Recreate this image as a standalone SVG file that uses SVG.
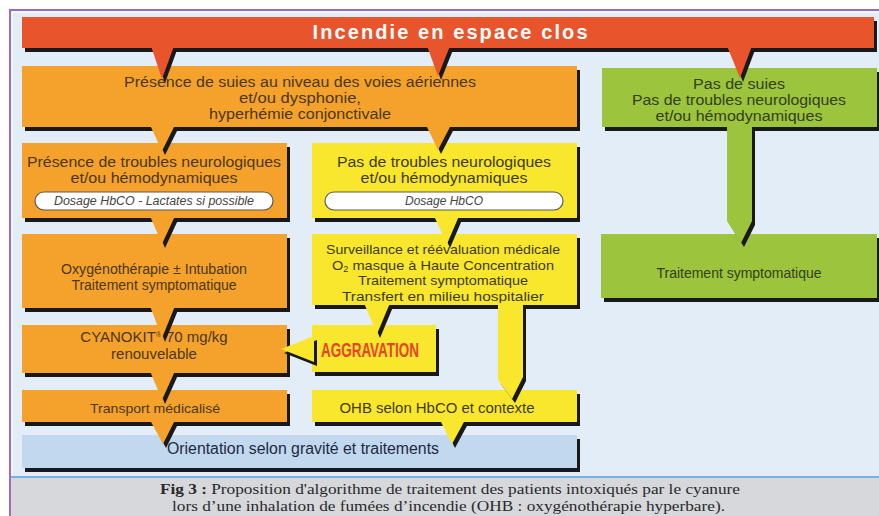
<svg xmlns="http://www.w3.org/2000/svg" width="879" height="516" viewBox="0 0 879 516">
<style>
.sh{fill:#17191d}
.red{fill:#e8542c}
.org{fill:#f5a22c}
.yel{fill:#f9e72e}
.grn{fill:#9cc43c}
.blu{fill:#c2d8ee}
.t{font-family:"Liberation Sans",Arial,sans-serif;text-anchor:middle}
.to{fill:#4b3716}
.ty{fill:#3f3a14}
.tg{fill:#33401a}
.pill{fill:#fff;stroke:#5a5a5a;stroke-width:1.2}
.pt{font-family:"Liberation Sans",Arial,sans-serif;font-style:italic;font-size:12px;fill:#444;text-anchor:middle}
.cap{font-family:"Liberation Serif","Times New Roman",serif;font-size:15px;fill:#2a2a2a}
</style>
<rect x="0" y="0" width="879" height="516" fill="#ffffff"/>
<rect x="10" y="10" width="869" height="506" fill="#e3edf7"/>
<line x1="12" y1="12" x2="879" y2="12" stroke="#ffffff" stroke-width="1"/>
<line x1="12" y1="12" x2="12" y2="477" stroke="#ffffff" stroke-width="1"/>
<line x1="9" y1="10" x2="879" y2="10" stroke="#9a6cc4" stroke-width="2"/>
<line x1="10" y1="9" x2="10" y2="516" stroke="#9a6cc4" stroke-width="2"/>
<rect x="11" y="477" width="868" height="39" fill="#d6d8db"/>
<line x1="11" y1="477" x2="879" y2="477" stroke="#79b2dd" stroke-width="2"/>

<g id="n_orient">
<rect class="sh" x="25" y="439" width="555" height="33"/>
<rect class="blu" x="22" y="435" width="555" height="33"/>
<text class="t" x="303" y="454" font-size="16" fill="#1e2a40" textLength="272" lengthAdjust="spacingAndGlyphs">Orientation selon gravité et traitements</text>
</g>
<g id="n_transport">
<rect class="sh" x="25" y="394" width="265" height="32"/>
<rect class="org" x="22" y="390" width="265" height="32"/>
<text class="t to" x="155" y="413" font-size="13.5" textLength="130" lengthAdjust="spacingAndGlyphs">Transport médicalisé</text>
</g>
<g id="n_ohb">
<rect class="sh" x="315" y="394" width="265" height="32"/>
<rect class="yel" x="312" y="390" width="265" height="32"/>
<text class="t ty" x="437" y="413" font-size="14.5" textLength="195" lengthAdjust="spacingAndGlyphs">OHB selon HbCO et contexte</text>
</g>
<g id="n_cyano">
<rect class="sh" x="25" y="329" width="265" height="48"/>
<rect class="org" x="22" y="325" width="265" height="48"/>
<text class="t to" x="154" y="342" font-size="15">CYANOKIT<tspan font-size="8" dy="-5">®</tspan><tspan dy="5">&#160;70 mg/kg</tspan></text>
<text class="t to" x="154" y="359" font-size="15">renouvelable</text>
</g>
<g id="n_aggr">
<rect class="sh" x="315" y="329" width="124" height="47"/>
<rect class="yel" x="312" y="325" width="124" height="47"/>
<text class="t" x="370" y="357" font-size="20" font-weight="bold" fill="#e8432a" textLength="98" lengthAdjust="spacingAndGlyphs">AGGRAVATION</text>
</g>
<g id="n_oxy">
<rect class="sh" x="25" y="238" width="265" height="74"/>
<rect class="org" x="22" y="234" width="265" height="74"/>
<text class="t to" x="154" y="274" font-size="14" textLength="186" lengthAdjust="spacingAndGlyphs">Oxygénothérapie ± Intubation</text>
<text class="t to" x="154" y="290" font-size="14">Traitement symptomatique</text>
</g>
<g id="n_surv">
<rect class="sh" x="315" y="238" width="265" height="71"/>
<rect class="yel" x="312" y="234" width="265" height="71"/>
<text class="t ty" x="443" y="254" font-size="13.5" textLength="234" lengthAdjust="spacingAndGlyphs">Surveillance et réévaluation médicale</text>
<text class="t ty" x="443" y="269.5" font-size="13.5" textLength="222" lengthAdjust="spacingAndGlyphs">O<tspan font-size="8.5" dy="2">2</tspan><tspan dy="-2">&#160;masque à Haute Concentration</tspan></text>
<text class="t ty" x="443" y="285" font-size="13.5" textLength="170" lengthAdjust="spacingAndGlyphs">Traitement symptomatique</text>
<text class="t ty" x="443" y="300.5" font-size="13.5" textLength="202" lengthAdjust="spacingAndGlyphs">Transfert en milieu hospitalier</text>
</g>
<g id="n_sympt">
<rect class="sh" x="604" y="238" width="276" height="64"/>
<rect class="grn" x="601" y="234" width="276" height="64"/>
<text class="t tg" x="739" y="278" font-size="14" textLength="165" lengthAdjust="spacingAndGlyphs">Traitement symptomatique</text>
</g>
<g id="n_neuro">
<rect class="sh" x="25" y="147" width="265" height="75"/>
<rect class="org" x="22" y="143" width="265" height="75"/>
<text class="t to" x="154" y="167" font-size="14" textLength="254" lengthAdjust="spacingAndGlyphs">Présence de troubles neurologiques</text>
<text class="t to" x="154" y="183" font-size="14" textLength="167" lengthAdjust="spacingAndGlyphs">et/ou hémodynamiques</text>
<rect class="pill" x="35" y="192" width="238" height="18" rx="9"/>
<text class="pt" x="154" y="205" textLength="200" lengthAdjust="spacingAndGlyphs">Dosage HbCO - Lactates si possible</text>
</g>
<g id="n_noneuro">
<rect class="sh" x="315" y="147" width="265" height="75"/>
<rect class="yel" x="312" y="143" width="265" height="75"/>
<text class="t ty" x="444" y="167" font-size="14" textLength="214" lengthAdjust="spacingAndGlyphs">Pas de troubles neurologiques</text>
<text class="t ty" x="444" y="183" font-size="14" textLength="167" lengthAdjust="spacingAndGlyphs">et/ou hémodynamiques</text>
<rect class="pill" x="325" y="192" width="238" height="18" rx="9"/>
<text class="pt" x="444" y="205">Dosage HbCO</text>
</g>
<g id="n_soot">
<rect class="sh" x="25" y="70" width="555" height="61"/>
<rect class="org" x="22" y="66" width="555" height="61"/>
<text class="t to" x="300" y="87" font-size="14" textLength="352" lengthAdjust="spacingAndGlyphs">Présence de suies au niveau des voies aériennes</text>
<text class="t to" x="300" y="103" font-size="14" textLength="122" lengthAdjust="spacingAndGlyphs">et/ou dysphonie,</text>
<text class="t to" x="300" y="119" font-size="14" textLength="182" lengthAdjust="spacingAndGlyphs">hyperhémie conjonctivale</text>
</g>
<g id="n_nosoot">
<rect class="sh" x="605" y="72" width="275" height="59"/>
<rect class="grn" x="602" y="68" width="275" height="59"/>
<text class="t tg" x="739" y="89" font-size="14" textLength="92" lengthAdjust="spacingAndGlyphs">Pas de suies</text>
<text class="t tg" x="739" y="105" font-size="14" textLength="214" lengthAdjust="spacingAndGlyphs">Pas de troubles neurologiques</text>
<text class="t tg" x="739" y="121" font-size="14" textLength="167" lengthAdjust="spacingAndGlyphs">et/ou hémodynamiques</text>
</g>
<g id="n_title">
<rect class="sh" x="25" y="21" width="852" height="31"/>
<rect class="red" x="22" y="17" width="852" height="31"/>
<text class="t" x="450" y="39" font-size="20" font-weight="bold" fill="#ffffff" textLength="275">Incendie en espace clos</text>
</g>

<g id="connectors">
<g transform="translate(3,4)" class="sh">
<polygon points="151,46 174,46 162,79"/>
<polygon points="427,46 450,46 438,76"/>
<polygon points="727,46 752,46 740,78"/>
<polygon points="150,125 175,125 162,151"/>
<polygon points="426,125 451,125 438,150"/>
<polygon points="150,216 175,216 162,244"/>
<polygon points="434,216 459,216 447,244"/>
<polygon points="150,306 175,306 162,338"/>
<polygon points="364,303 390,303 377,334"/>
<polygon points="498,303 523,303 523,377 512,399 498,380"/>
<polygon points="314,336 281,349 314,362"/>
<polygon points="150,371 175,371 162,400"/>
<polygon points="150,420 175,420 163,444"/>
<polygon points="440,420 465,420 452,444"/>
<polygon points="727,125 752,125 752,221 741,243 727,221"/>
</g>
<polygon class="red" points="151,46 174,46 162,79"/>
<polygon class="red" points="427,46 450,46 438,76"/>
<polygon class="red" points="727,46 752,46 740,78"/>
<polygon class="org" points="150,125 175,125 162,151"/>
<polygon class="org" points="426,125 451,125 438,150"/>
<polygon class="org" points="150,216 175,216 162,244"/>
<polygon class="yel" points="434,216 459,216 447,244"/>
<polygon class="org" points="150,306 175,306 162,338"/>
<polygon class="yel" points="364,303 390,303 377,334"/>
<polygon class="yel" points="498,303 523,303 523,377 512,399 498,380"/>
<polygon class="yel" points="314,336 281,349 314,362"/>
<polygon class="org" points="150,371 175,371 162,400"/>
<polygon class="org" points="150,420 175,420 163,444"/>
<polygon class="yel" points="440,420 465,420 452,444"/>
<polygon class="grn" points="727,125 752,125 752,221 741,243 727,221"/>
</g>

<text class="cap" x="160" y="494" textLength="580" lengthAdjust="spacingAndGlyphs"><tspan font-weight="bold">Fig 3 :</tspan> Proposition d'algorithme de traitement des patients intoxiqués par le cyanure</text>
<text class="cap" x="172" y="511" textLength="553" lengthAdjust="spacingAndGlyphs">lors d’une inhalation de fumées d’incendie (OHB : oxygénothérapie hyperbare).</text>
</svg>
